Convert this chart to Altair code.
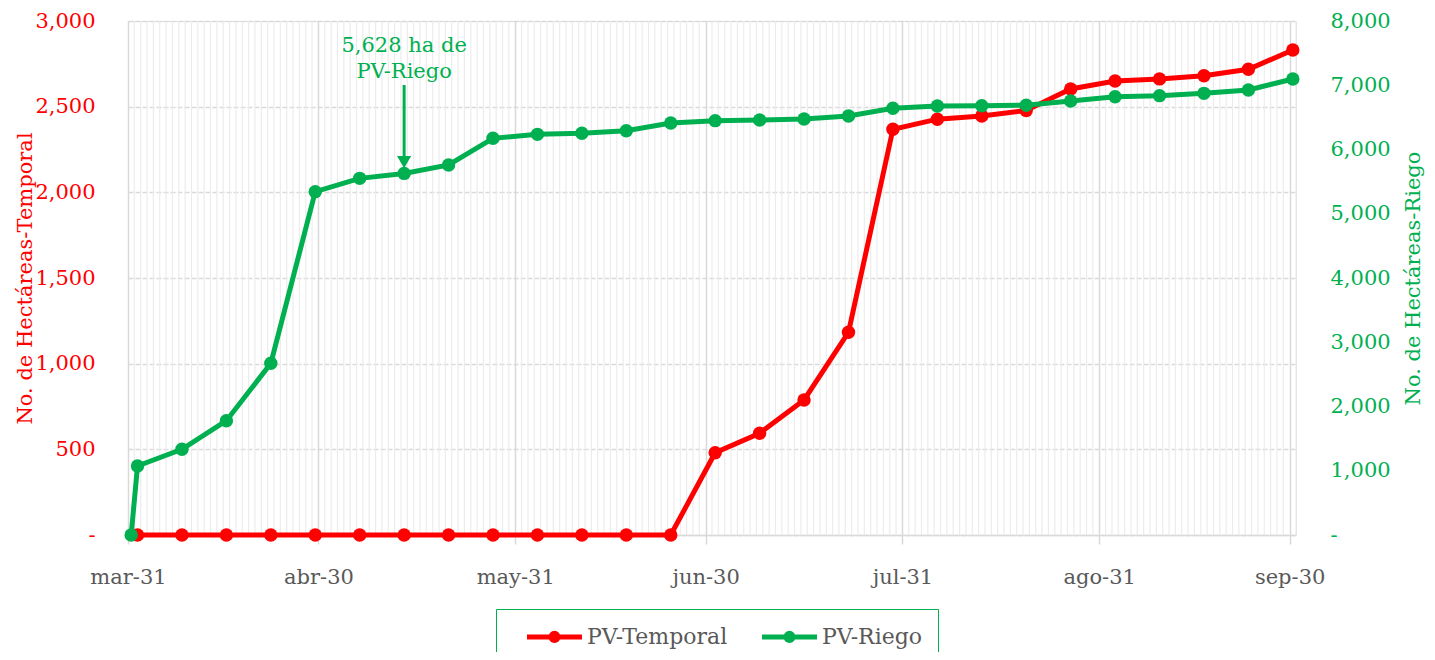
import altair as alt
import pandas as pd

# ---------------- data ----------------
dates = [
    "2021-03-31", "2021-04-01", "2021-04-08", "2021-04-15", "2021-04-22", "2021-04-29",
    "2021-05-06", "2021-05-13", "2021-05-20", "2021-05-27", "2021-06-03", "2021-06-10",
    "2021-06-17", "2021-06-24", "2021-07-01", "2021-07-08", "2021-07-15", "2021-07-22",
    "2021-07-29", "2021-08-05", "2021-08-12", "2021-08-19", "2021-08-26", "2021-09-02",
    "2021-09-09", "2021-09-16", "2021-09-23", "2021-09-30",
]
# PV-Temporal starts on 2021-04-01
temporal = [0, 0, 0, 0, 0, 0, 0, 0, 0, 0, 0, 0, 0,
            480, 594, 788, 1183, 2368, 2427, 2446, 2478, 2603, 2650, 2662, 2680, 2718, 2831]
riego = [0, 1075, 1334, 1779, 2672, 5343, 5551, 5628, 5759, 6174, 6236, 6252, 6293, 6412,
         6449, 6459, 6475, 6521, 6641, 6677, 6680, 6690, 6755, 6822, 6838, 6874, 6926, 7097]
series_names = ["PV-Temporal", "PV-Riego"]
series_colors = ["#ff0000", "#00b050"]
month_ticks = ["2021-03-31", "2021-04-30", "2021-05-31", "2021-06-30",
               "2021-07-31", "2021-08-31", "2021-09-30"]
annot_text = ["5,628 ha de", "PV-Riego"]
annot_text_y = [7611, 7206]     # right-axis units
annot_date = "2021-05-13"
annot_arrow = [7004, 5890]      # arrow shaft (right-axis units)
annot_head = [5805]

FONT = "DejaVu Serif"
GRAY = "#595959"
FS = 21

def noon(d):
    return d + "T12:00:00"

df_t = pd.DataFrame({"date": [noon(d) for d in dates[1:]], "value": temporal,
                     "series": series_names[0]})
df_r = pd.DataFrame({"date": [noon(d) for d in dates], "value": riego,
                     "series": series_names[1]})

def dt(s):
    y, m, d = map(int, s.split("-"))
    return alt.DateTime(year=y, month=m, date=d)

minor_days = [d.strftime("%Y-%m-%dT00:00:00")
              for d in pd.date_range("2021-03-31", "2021-10-01", freq="D")
              if d.strftime("%Y-%m-%d") not in month_ticks]
df_minor = pd.DataFrame({"date": minor_days})

month_expr = ("['ene','feb','mar','abr','may','jun','jul','ago','sep','oct','nov','dic']"
              "[month(datum.value)] + '-' + date(datum.value)")

x_axis = alt.Axis(values=[dt(s) for s in month_ticks], labelExpr=month_expr,
                  labelFlush=False, labelOverlap=False,
                  grid=True, gridColor="#d9d9d9", gridWidth=1.5,
                  ticks=True, tickColor="#d9d9d9", tickSize=9, tickWidth=1.5,
                  domain=True, domainColor="#d9d9d9", domainWidth=1.5,
                  labelFont=FONT, labelFontSize=FS, labelColor=GRAY, labelPadding=22,
                  title=None)
x_scale = alt.Scale(domain=[dt("2021-03-31"), alt.DateTime(year=2021, month=10, date=1)])

def X():
    return alt.X("date:T", scale=x_scale, axis=x_axis)

color = alt.Color("series:N", scale=alt.Scale(domain=series_names, range=series_colors),
                  legend=alt.Legend(
                      orient="none", legendX=368, legendY=588, direction="horizontal",
                      title=None,
                      symbolType="M-2.75,0L2.75,0M0.36,0A0.36,0.36,0,1,1,-0.36,0A0.36,0.36,0,1,1,0.36,0",
                      symbolSize=400, symbolStrokeWidth=5, symbolOffset=31,
                      labelFont=FONT, labelFontSize=22, labelColor=GRAY, labelOffset=20,
                      padding=15, columnPadding=18,
                      strokeColor="#00b050", symbolFillColor="transparent"))

label_expr = "datum.value == 0 ? '-' : format(datum.value, ',')"

y_left = alt.Y("value:Q", scale=alt.Scale(domain=[0, 3000], nice=False),
               axis=alt.Axis(values=list(range(0, 3001, 500)), labelExpr=label_expr,
                             labelFont=FONT, labelFontSize=FS, labelColor="#ff0000",
                             labelPadding=33, ticks=False, domain=False,
                             grid=True, gridColor="#d9d9d9", gridDash=[5, 2], gridWidth=1.5,
                             title="No. de Hectáreas-Temporal", titleFont=FONT,
                             titleFontSize=FS, titleFontWeight="normal", titleColor="#ff0000",
                             titleAngle=-90, titleX=-103, titleY=257, titleBaseline="middle",
                             titleAlign="center"))

def y_right():
    axis = alt.Axis(orient="right", values=list(range(0, 8001, 1000)), labelExpr=label_expr,
                    labelFont=FONT, labelFontSize=FS, labelColor="#00b050",
                    labelPadding=34, ticks=False, domain=False, grid=False,
                    title="No. de Hectáreas-Riego", titleFont=FONT, titleFontSize=FS,
                    titleFontWeight="normal", titleColor="#00b050",
                    titleAngle=-90, titleX=117, titleY=257, titleBaseline="middle",
                    titleAlign="center")
    return alt.Y("value:Q", scale=alt.Scale(domain=[0, 8000], nice=False), axis=axis)

minor = alt.Chart(df_minor).mark_rule(color="#ececec", strokeWidth=1.2).encode(x=X())

red = alt.layer(
    alt.Chart(df_t).mark_line(strokeWidth=5).encode(x=X(), y=y_left, color=color),
    alt.Chart(df_t).mark_point(filled=True, size=180, opacity=1).encode(x=X(), y=y_left, color=color),
)

df_arrow = pd.DataFrame({"date": [noon(annot_date)], "value": [annot_arrow[0]],
                         "value2": [annot_arrow[1]]})
df_head = pd.DataFrame({"date": [noon(annot_date)], "value": annot_head})
df_label = pd.DataFrame({"date": [noon(annot_date)] * 2, "value": annot_text_y,
                         "txt": annot_text})

green = alt.layer(
    alt.Chart(df_r).mark_line(strokeWidth=5).encode(x=X(), y=y_right(), color=color),
    alt.Chart(df_r).mark_point(filled=True, size=180, opacity=1).encode(x=X(), y=y_right(), color=color),
    alt.Chart(df_arrow).mark_rule(color="#00b050", strokeWidth=3).encode(
        x=X(), y=y_right(), y2="value2:Q"),
    alt.Chart(df_head).mark_point(shape="triangle-down", filled=True, size=200,
                                  color="#00b050", opacity=1).encode(x=X(), y=y_right()),
    alt.Chart(df_label).mark_text(font=FONT, fontSize=FS, color="#00b050",
                                  baseline="middle").encode(
        x=X(), y=y_right(), text="txt:N"),
)

chart = alt.layer(minor, red, green).resolve_scale(y="independent").properties(
    width=1168, height=514,
    autosize=alt.AutoSizeParams(type="none"),
    padding={"left": 120, "top": 13, "right": 131, "bottom": 117},
).configure_view(stroke=None).configure(background="white")

chart.save("out.html", embed_options={"renderer": "svg", "actions": False})
